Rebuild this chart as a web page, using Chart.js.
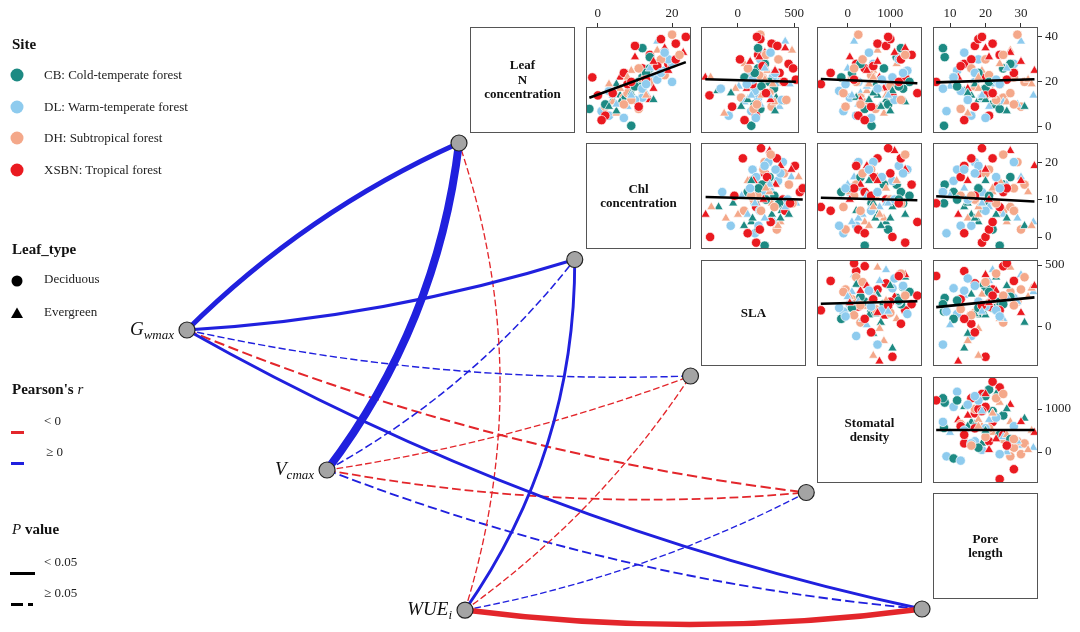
<!DOCTYPE html>
<html>
<head>
<meta charset="utf-8">
<title>Traits network</title>
<script src="https://cdn.jsdelivr.net/npm/chart.js@4.4.1/dist/chart.umd.min.js"></script>
<style>
  body { margin: 0; background: #fff; font-family: 'Liberation Serif', 'Times New Roman', serif; }
  #page { position: relative; width: 1080px; height: 632px; overflow: hidden; background: #fff; }
  canvas { position: absolute; }
  .diag { position: absolute; box-sizing: border-box; border: 1px solid #555; display: flex; align-items: center;
          justify-content: center; text-align: center; font-weight: bold; font-size: 13px; line-height: 14.5px; color: #111; }
  .lgT { position: absolute; left: 12px; font-size: 15px; line-height: 18px; font-weight: bold; color: #111; white-space: nowrap; }
  .lgI { position: absolute; font-size: 13px; line-height: 18px; color: #222; white-space: nowrap; }
  .mk { position: absolute; }
  .node { position: absolute; font-style: italic; font-size: 19px; line-height: 24px; color: #111; white-space: nowrap; }
  .node sub { font-size: 13px; vertical-align: baseline; position: relative; top: 4px; }
</style>
</head>
<body>
<div id="page">
  <canvas id="network" width="1080" height="632" style="left:0;top:0"></canvas>
</div>
<script>
// ---- Données ----
const traitLabels = [['Leaf', 'N', 'concentration'], ['Chl', 'concentration'], ['SLA'], ['Stomatal', 'density'], ['Pore', 'length']];
const siteNames = ['CB: Cold-temperate forest', 'DL: Warm-temperate forest', 'DH: Subtropical forest', 'XSBN: Tropical forest'];
const siteColors = ['#1d8a83', '#8ecbee', '#f4a88a', '#ea1a20'];
const leafTypes = ['Deciduous', 'Evergreen'];

// un élément par feuille : site (0 CB, 1 DL, 2 DH, 3 XSBN) et type (0 caduc, 1 sempervirent)
const siteIdx = [
  0,0,0,0,0,0,0,0,0,0,0,0,0,0,0,0,0,0,0,0,0,0,
  1,1,1,1,1,1,1,1,1,1,1,1,1,1,1,1,1,1,1,1,1,1,1,1,1,1,
  2,2,2,2,2,2,2,2,2,2,2,2,2,2,2,2,2,2,2,2,2,2,2,2,2,
  3,3,3,3,3,3,3,3,3,3,3,3,3,3,3,3,3,3,3,3,3,3,3,3,3,3,3
];
const leafType = [
  0,0,0,1,1,0,0,0,0,1,0,1,1,1,0,1,0,1,0,1,0,1,
  1,0,0,0,1,0,1,0,0,1,0,0,1,0,1,1,0,0,1,0,0,0,1,0,0,1,
  0,1,0,0,1,0,1,1,0,0,1,0,1,0,0,0,1,1,0,0,1,1,0,0,1,
  0,0,0,0,0,1,1,0,0,1,0,0,0,0,1,0,0,1,0,0,1,0,1,0,0,0,1
];
const leafN = [
  0.5,31,35,12,14,10,17,22,8,13,26,16,19,11,28,9,20,15,24,7,18,12,
  38,20,25,7,15,13,19,5,22,11,28,16,9,30,18,14,21,12,26,4,17,24,10,19,33,14,
  41,34,22,9,16,13,25,6,20,18,11,23,28,15,8,30,17,21,12,26,14,19,10,32,22,
  32,22,37,36,28,22,33,14,26,17,39,24,5,30,12,19,27,35,9,21,29,15,25,40,3,20,31
];
const chl = [
  9,14,12,4,6,2,9,12,-2.3,7,14,8,5,6,16,3,11,9,13,5,10,15,
  16,20,18,1,13,12,9,3,15,6,20,3,8,19,11,4,16,10,14,7,12,17,5,13,18,9,
  20,16,13,2,12,7,9,5,14,10,4,18,15,8,11,17,6,12,9,11,13,3,7,22,8,
  14,-1.5,21,10,19,6,23,0,12,15,17,7,2,21,14,8,16,18,11,13,15,4,19,23.7,1,9,10
];
const sla = [
  120,230,180,90,260,150,320,60,200,340,180,-180,100,400,240,30,280,-60,150,330,210,90,
  420,350,100,120,250,180,460,-80,310,60,230,150,370,200,10,280,130,390,240,160,-150,330,200,80,290,120,
  200,480,220,300,160,30,260,-120,400,110,330,190,60,280,140,360,-20,240,430,90,210,310,170,250,-240,
  180,130,300,350,450,-287,240,-250,490,80,200,370,160,20,290,130,220,420,-50,514,110,250,330,170,60,410,190
];
const stomDens = [
  560,1150,1250,900,700,950,1300,-150,400,200,850,1050,650,1350,300,780,1450,600,100,1000,1200,500,
  150,250,1400,-100,300,50,900,200,1050,350,600,-200,750,1200,450,100,800,1100,0,550,700,1300,250,-50,500,950,
  250,700,100,-50,450,300,600,850,200,1000,400,550,1150,-100,650,350,750,50,1250,150,900,500,300,1350,600,
  1500,1350,700,900,200,745,1100,1050,400,850,1000,-400,250,1250,300,-630,600,1350,550,150,700,1635,450,950,400,1200,50
];
const poreLen = [
  8.3,8.5,8,18,16,22,20,11,24,19,25,14,17,23,27,31,21,15,18,26,12,20,
  30,17,12,9,14,19,22,16,11,25,28,13,21,18,10,33.5,23,15,26,20,8,17,29,24,14,19,
  29,27,28,30,22,25,19,15,31,17,26,21,24,27,13,20,18,32,23,16,22,33,28,25,18,
  24,19,22,17,14,12.3,27,20,25,15,18,28,21,16,23,24,13,20,17,26,30,22,33.8,19,14,6.1,21
];

// axes de la matrice
const axisMin = [-2.7, -3.2, -325, -720, 5.2];
const axisMax = [44.4, 25.1, 541, 1744, 34.8];
const xTicks = [null, [0, 20], [0, 500], [0, 1000], [10, 20, 30]];
const yTicks = [[0, 20, 40], [0, 10, 20], [0, 500], [0, 1000], null];

// droites de régression (début / fin), panneaux ligne par ligne
const fitY0 = [13.0, 21.2, 21.3, 19.8, 10.7, 10.5, 10.9, 183, 156, 512];
const fitY1 = [28.8, 20.1, 19.4, 21.2, 10.0, 9.8, 9.5, 204, 236, 512];

// corrélations de Pearson entre réponses (Gwmax, Vcmax, WUEi) et traits
const rGwmax = [0.42, 0.22, 0.08, -0.14, 0.22];
const rVcmax = [0.70, 0.09, -0.07, -0.11, 0.12];
const rWUEi = [-0.07, 0.22, -0.07, 0.07, -0.48];
const pGwmax = [0.001, 0.01, 0.30, 0.10, 0.01];
const pVcmax = [0.001, 0.30, 0.40, 0.20, 0.15];
const pWUEi = [0.40, 0.01, 0.40, 0.40, 0.001];

// ---- Mise en page ----
const FONT = "'Liberation Serif', 'Times New Roman', serif";
const colLeft = [470, 586, 701, 817, 933];
const rowTop = [27, 143, 260, 377, 493];
const boxW = 105, boxH = 106;
const BLUE = '#2020de', RED = '#e3262b';
// position des nœuds du réseau (unités de la grille de la matrice)
const respLabels = [['G', 'wmax'], ['V', 'cmax'], ['WUE', 'i']];
const respU = [-2.35, -1.14, 0.052];
const respV = [1.605, 2.807, 4.009];
// courbure des arcs (px, côté droit du trajet réponse -> trait)
const bend = [
  [-15, 12, 16, 22, 30],
  [24, 16.5, 10, 16.5, 21.5],
  [38, 29, 15, 13.3, 15]
];

Chart.defaults.font.family = FONT;
const page = document.getElementById('page');

// ---- Légende ----
function addText(cls, html, left, cy) {
  const d = document.createElement('div');
  d.className = cls;
  d.innerHTML = html;
  d.style.left = left + 'px';
  d.style.top = (cy - 9) + 'px';
  page.appendChild(d);
}
function addMarker(svg, cx, cy, w, h) {
  const d = document.createElement('div');
  d.className = 'mk';
  d.style.left = (cx - w / 2) + 'px';
  d.style.top = (cy - h / 2) + 'px';
  d.innerHTML = `<svg width="${w}" height="${h}">${svg}</svg>`;
  page.appendChild(d);
}
addText('lgT', 'Site', 12, 44);
siteNames.forEach((s, k) => {
  const cy = [75, 107, 138, 170][k];
  addMarker(`<circle cx="7" cy="7" r="6.5" fill="${siteColors[k]}"/>`, 17, cy, 14, 14);
  addText('lgI', s, 44, cy);
});
addText('lgT', 'Leaf_type', 12, 249);
addMarker('<circle cx="6" cy="6" r="5.5" fill="#000"/>', 17, 279, 12, 12);
addText('lgI', leafTypes[0], 44, 279);
addMarker('<polygon points="6,0.5 12,11 0,11" fill="#000"/>', 17, 311, 12, 12);
addText('lgI', leafTypes[1], 44, 312);
addText('lgT', "Pearson's <i style=\"font-weight:normal\">r</i>", 12, 389);
addMarker(`<rect x="0" y="0" width="13" height="3" fill="${RED}"/>`, 17.5, 421, 13, 3);
addText('lgI', '&lt; 0', 44, 421);
addMarker(`<rect x="0" y="0" width="13" height="3" fill="${BLUE}"/>`, 17.5, 452, 13, 3);
addText('lgI', '&ge; 0', 46, 452);
addText('lgT', '<i style="font-weight:normal">P</i> value', 12, 529);
addMarker('<rect x="0" y="0" width="25" height="3" fill="#000"/>', 22.5, 562, 25, 3);
addText('lgI', '&lt; 0.05', 44, 562);
addMarker('<rect x="0" y="0" width="12" height="3" fill="#000"/><rect x="17" y="0" width="5" height="3" fill="#000"/>', 22, 593, 22, 3);
addText('lgI', '&ge; 0.05', 44, 593);

// ---- Réseau ----
const rAll = [rGwmax, rVcmax, rWUEi];
const pAll = [pGwmax, pVcmax, pWUEi];

const edgePlugin = {
  id: 'edges',
  beforeDatasetsDraw(chart) {
    const { ctx, scales: { x, y } } = chart;
    [false, true].forEach(sigPass => {
      rAll.forEach((row, i) => row.forEach((r, j) => {
        const sig = pAll[i][j] < 0.05;
        if (sig !== sigPass) return;
        const x0 = x.getPixelForValue(respU[i]), y0 = y.getPixelForValue(respV[i]);
        const x1 = x.getPixelForValue(j), y1 = y.getPixelForValue(j);
        const dx = x1 - x0, dy = y1 - y0, len = Math.hypot(dx, dy);
        const b = 2 * bend[i][j];
        const cx = (x0 + x1) / 2 - dy / len * b;
        const cy = (y0 + y1) / 2 + dx / len * b;
        const w = 0.6 + 10.5 * Math.abs(r);
        ctx.save();
        ctx.strokeStyle = r < 0 ? RED : BLUE;
        ctx.lineWidth = w;
        ctx.lineCap = 'butt';
        if (!sig) ctx.setLineDash([5 * w, 2.2 * w]);
        ctx.beginPath();
        ctx.moveTo(x0, y0);
        ctx.quadraticCurveTo(cx, cy, x1, y1);
        ctx.stroke();
        ctx.restore();
      }));
    });
  }
};

const nodePts = traitLabels.map((t, j) => ({ x: j, y: j }))
  .concat(respU.map((u, i) => ({ x: u, y: respV[i] })));

const netChart = new Chart(document.getElementById('network'), {
  type: 'scatter',
  data: {
    datasets: [{
      data: nodePts,
      pointRadius: 8,
      pointBackgroundColor: '#a4a4a4',
      pointBorderColor: '#222',
      pointBorderWidth: 1.2,
      clip: false
    }]
  },
  options: {
    responsive: false,
    animation: false,
    layout: { padding: 0, autoPadding: false },
    plugins: { legend: { display: false }, tooltip: { enabled: false } },
    scales: {
      x: { type: 'linear', display: false, min: -3.9654, max: 5.3650 },
      y: { type: 'linear', display: false, min: -1.2275, max: 4.1974, reverse: true }
    }
  },
  plugins: [edgePlugin]
});

// étiquettes des nœuds de réponse
respLabels.forEach((lab, i) => {
  const px = netChart.scales.x.getPixelForValue(respU[i]);
  const py = netChart.scales.y.getPixelForValue(respV[i]);
  const d = document.createElement('div');
  d.className = 'node';
  d.innerHTML = `${lab[0]}<sub>${lab[1]}</sub>`;
  d.style.right = (1080 - (px - 13)) + 'px';
  d.style.top = (py - 13) + 'px';
  page.appendChild(d);
});

// ---- Diagonale ----
traitLabels.forEach((lines, k) => {
  const d = document.createElement('div');
  d.className = 'diag';
  d.style.left = colLeft[k] + 'px';
  d.style.top = rowTop[k] + 'px';
  d.style.width = boxW + 'px';
  d.style.height = boxH + 'px';
  d.innerHTML = lines.join('<br>');
  page.appendChild(d);
});

// ---- Nuages de points ----
const traitVals = [leafN, chl, sla, stomDens, poreLen];
// ordre de tracé : on alterne les sites
const cnt = [0, 0, 0, 0];
const rank = siteIdx.map(s => cnt[s]++);
const drawOrder = siteIdx.map((s, k) => k).sort((a, b) => rank[a] - rank[b] || siteIdx[a] - siteIdx[b]);

const boxPlugin = {
  id: 'box',
  afterDatasetsDraw(chart) {
    const a = chart.chartArea, c = chart.ctx;
    c.save();
    c.strokeStyle = '#555';
    c.lineWidth = 1;
    c.strokeRect(Math.round(a.left) + 0.5, Math.round(a.top) + 0.5, Math.round(a.right - a.left) - 1, Math.round(a.bottom - a.top) - 1);
    c.restore();
  }
};

const panels = [];
for (let i = 0; i < 5; i++) for (let j = i + 1; j < 5; j++) panels.push([i, j]);

panels.forEach(([i, j], p) => {
  const showTop = i === 0, showRight = j === 4;
  // marge pour les étiquettes : axe du haut (30) ou demi-hauteur des étiquettes de droite (14)
  const axisH = showTop ? 30 : 0;
  const axisW = showRight ? 50 : 0;
  const padT = showTop ? 30 : (showRight ? 14 : 0);
  const padB = showRight ? 14 : 0;
  const cv = document.createElement('canvas');
  cv.width = boxW + axisW;
  cv.height = boxH + padT + padB;
  cv.style.left = colLeft[j] + 'px';
  cv.style.top = (rowTop[i] - padT) + 'px';
  page.appendChild(cv);

  const xs = traitVals[j], ys = traitVals[i];
  const pts = drawOrder.map(k => ({ x: xs[k], y: ys[k] }));
  const xMin = Math.min(...xs), xMax = Math.max(...xs);

  const tickFont = { family: FONT, size: 13 };
  new Chart(cv, {
    type: 'scatter',
    data: {
      datasets: [
        {
          data: [{ x: xMin, y: fitY0[p] }, { x: xMax, y: fitY1[p] }],
          showLine: true,
          borderColor: '#000',
          borderWidth: 2.6,
          pointRadius: 0,
          order: 0
        },
        {
          data: pts,
          pointStyle: drawOrder.map(k => leafType[k] ? 'triangle' : 'circle'),
          pointRadius: drawOrder.map(k => leafType[k] ? 5.3 : 4.7),
          pointBackgroundColor: drawOrder.map(k => siteColors[siteIdx[k]]),
          pointBorderColor: '#fff',
          pointBorderWidth: 0.7,
          clip: 0,
          order: 1
        }
      ]
    },
    options: {
      responsive: false,
      animation: false,
      layout: { padding: { top: padT - axisH, bottom: padB, left: 0, right: 0 }, autoPadding: false },
      plugins: { legend: { display: false }, tooltip: { enabled: false } },
      scales: {
        x: {
          type: 'linear', position: 'top', display: showTop,
          min: axisMin[j], max: axisMax[j],
          afterBuildTicks: s => { if (xTicks[j]) s.ticks = xTicks[j].map(v => ({ value: v })); },
          afterFit: s => { s.height = axisH; },
          grid: { drawOnChartArea: false, drawTicks: true, tickLength: 4, color: '#333' },
          border: { display: false },
          ticks: { font: tickFont, color: '#222', padding: 2, maxRotation: 0, autoSkip: false, callback: v => String(v) }
        },
        y: {
          type: 'linear', position: 'right', display: showRight,
          min: axisMin[i], max: axisMax[i],
          afterBuildTicks: s => { if (yTicks[i]) s.ticks = yTicks[i].map(v => ({ value: v })); },
          afterFit: s => { s.width = axisW; },
          grid: { drawOnChartArea: false, drawTicks: true, tickLength: 4, color: '#333' },
          border: { display: false },
          ticks: { font: tickFont, color: '#222', padding: 3, autoSkip: false, callback: v => String(v) }
        }
      }
    },
    plugins: [boxPlugin]
  });
});
</script>
</body>
</html>
